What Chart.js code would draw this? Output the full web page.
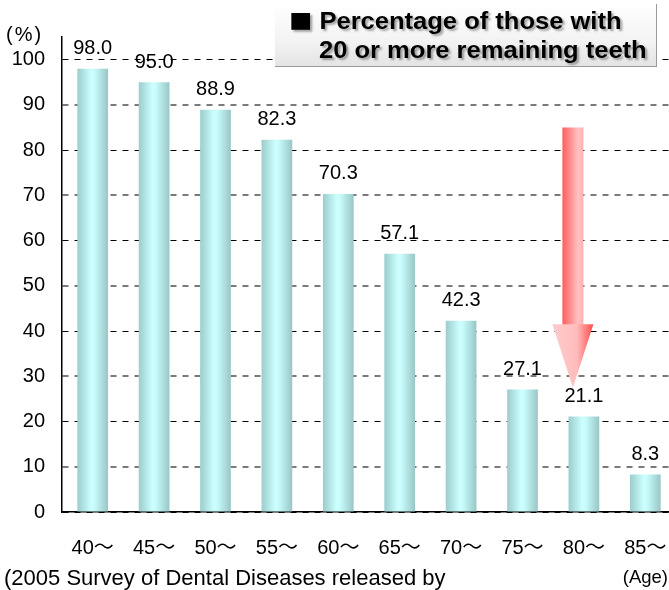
<!DOCTYPE html>
<html>
<head>
<meta charset="utf-8">
<script src="https://cdn.jsdelivr.net/npm/chart.js@4/dist/chart.umd.min.js"></script>
<style>
  html, body { margin: 0; padding: 0; background: #fff; overflow: hidden; }
  body { width: 669px; height: 590px; position: relative; font-family: "Liberation Sans", Arial, sans-serif; }
  #c { position: absolute; left: 0; top: 0; width: 676px; height: 590px; }
  .unit { position: absolute; left: 6px; top: 23px; font-size: 20px; color: #000; letter-spacing: 2px; }
  .legendBox {
    position: absolute; left: 275px; top: 4px; width: 382px; height: 63px;
    background: linear-gradient(#ffffff, #f3f3f3 60%, #e4e4e4);
    border-right: 1px solid #9a9a9a; border-bottom: 1px solid #9a9a9a;
    box-sizing: border-box;
    font-weight: bold; font-size: 23px; line-height: 29px; color: #000;
    text-shadow: 2px 2px 2px rgba(0,0,0,0.35);
    padding: 2px 0 0 14px; white-space: nowrap;
  }
  .legendBox div { transform: scaleX(1.11); transform-origin: left center; }
  .legendBox .sq { font-family: "Noto Sans CJK JP", sans-serif; font-weight: normal; font-size: 21px; }
  .legendBox .l2 { padding-left: 27px; }
  .note { position: absolute; left: 4px; top: 565px; font-size: 22px; color: #000; white-space: nowrap; }
  .age { position: absolute; right: 1px; top: 566px; font-size: 18.5px; color: #000; }
</style>
</head>
<body>
<canvas id="c" width="676" height="590"></canvas>
<div class="unit">(%)</div>
<div class="legendBox"><div><span class="sq">■</span> Percentage of those with</div><div class="l2">20 or more remaining teeth</div></div>
<div class="note">(2005 Survey of Dental Diseases released by</div>
<div class="age">(Age)</div>
<script>
// Age groups and share of people keeping 20+ teeth (%)
const ageGroups = ['40～', '45～', '50～', '55～', '60～', '65～', '70～', '75～', '80～', '85～'];
const percentWith20Teeth = [98.0, 95.0, 88.9, 82.3, 70.3, 57.1, 42.3, 27.1, 21.1, 8.3];
const yTickValues = [0, 10, 20, 30, 40, 50, 60, 70, 80, 90, 100];

const FONT = '"Liberation Sans", Arial, "Noto Sans CJK JP", sans-serif';

// Cylinder-like horizontal shading for each bar
function barFill(ctx) {
  const chart = ctx.chart;
  const area = chart.chartArea;
  if (!area) return '#b8e8e8';
  const xs = chart.scales.x;
  const cx = xs.getPixelForValue(ctx.dataIndex);
  const half = (area.width / ageGroups.length) * 0.5 / 2;
  const g = chart.ctx.createLinearGradient(cx - half, 0, cx + half, 0);
  g.addColorStop(0, '#9ccccc');
  g.addColorStop(0.45, '#ccffff');
  g.addColorStop(0.55, '#c8fcfc');
  g.addColorStop(1, '#99c6c6');
  return g;
}

// Value labels above the bars
const valueLabels = {
  id: 'valueLabels',
  afterDatasetsDraw(chart) {
    const c = chart.ctx;
    const meta = chart.getDatasetMeta(0);
    c.save();
    c.font = '20px ' + FONT;
    c.fillStyle = '#000';
    c.textAlign = 'center';
    c.textBaseline = 'bottom';
    meta.data.forEach((bar, i) => {
      c.fillText(percentWith20Teeth[i].toFixed(1), bar.x, bar.y - 10);
    });
    c.restore();
  }
};

// Downward red arrow over the 80～ group
const dropArrow = {
  id: 'dropArrow',
  afterDraw(chart) {
    const c = chart.ctx;
    const xs = chart.scales.x, ys = chart.scales.y;
    const cx = xs.getPixelForValue(8) - 11;
    const top = ys.getPixelForValue(85);
    const neck = ys.getPixelForValue(41.5);
    const tip = ys.getPixelForValue(27.5);
    const shaftHalf = 10.5, headHalf = 20.5;
    c.save();
    let g = c.createLinearGradient(cx - shaftHalf, 0, cx + shaftHalf, 0);
    g.addColorStop(0, '#ff5c5c');
    g.addColorStop(0.75, '#ffc2c2');
    g.addColorStop(1, '#ffb0b0');
    c.fillStyle = g;
    c.fillRect(cx - shaftHalf, top, shaftHalf * 2, neck - top + 1);
    g = c.createLinearGradient(cx - headHalf, 0, cx + headHalf, 0);
    g.addColorStop(0, '#ffcccc');
    g.addColorStop(0.6, '#ffbcbc');
    g.addColorStop(1, '#ff4a4a');
    c.fillStyle = g;
    c.beginPath();
    c.moveTo(cx - headHalf, neck);
    c.lineTo(cx + headHalf, neck);
    c.lineTo(cx, tip);
    c.closePath();
    c.fill();
    c.restore();
  }
};

new Chart(document.getElementById('c'), {
  type: 'bar',
  data: {
    labels: ageGroups,
    datasets: [{
      data: percentWith20Teeth,
      backgroundColor: barFill,
      borderWidth: 0,
      barPercentage: 0.5,
      categoryPercentage: 1.0
    }]
  },
  options: {
    responsive: false,
    maintainAspectRatio: false,
    animation: false,
    events: [],
    layout: { padding: { top: 37, left: 0, right: 0, bottom: 0 } },
    plugins: { legend: { display: false }, tooltip: { enabled: false }, title: { display: false } },
    scales: {
      x: {
        grid: { display: false, drawTicks: false },
        border: { display: true, color: '#000', width: 1.5 },
        ticks: { color: '#000', font: { size: 20, family: FONT }, padding: 24, maxRotation: 0, autoSkip: false },
        afterFit(scale) { scale.height = 78; scale.paddingRight = 0; scale.paddingLeft = 0; }
      },
      y: {
        min: 0,
        max: 105,
        grid: {
          drawTicks: false,
          color: (ctx) => (ctx.tick && ctx.tick.value % 20 === 0) ? '#000' : '#7a7a7a',
          lineWidth: (ctx) => (ctx.tick && ctx.tick.value % 20 === 0) ? 1 : 2
        },
        border: { display: true, color: '#000', width: 1.5, dash: [6, 6] },
        ticks: { color: '#000', font: { size: 20, family: FONT }, padding: 17 },
        afterBuildTicks(scale) { scale.ticks = yTickValues.map(v => ({ value: v })); },
        afterFit(scale) { scale.width = 62; }
      }
    }
  },
  plugins: [valueLabels, dropArrow]
});
</script>
</body>
</html>
